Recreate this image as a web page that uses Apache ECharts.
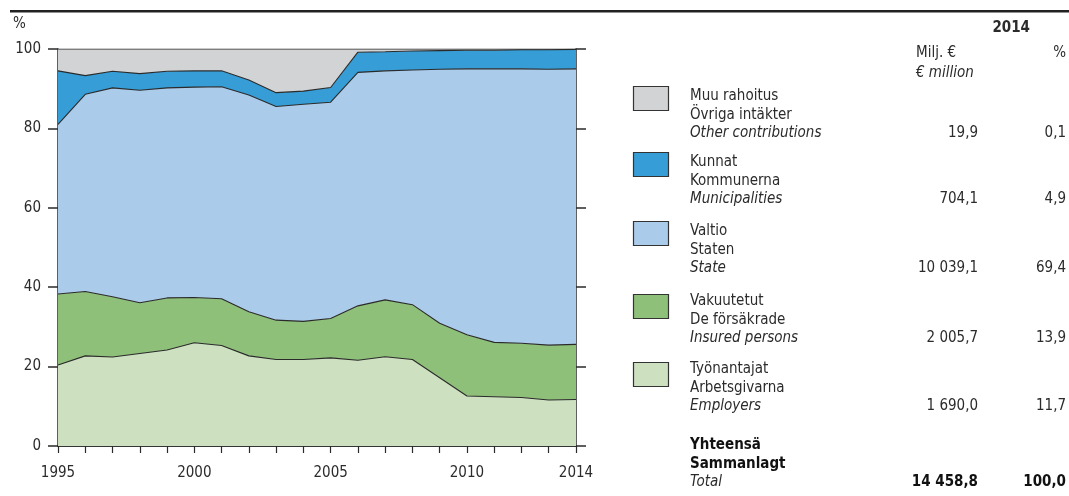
<!DOCTYPE html>
<html>
<head>
<meta charset="utf-8">
<script src="https://cdn.jsdelivr.net/npm/echarts@6/dist/echarts.min.js"></script>
<style>
  html, body { margin: 0; padding: 0; background: #fff; }
  #main { width: 1069px; height: 496px; }
</style>
</head>
<body>
<div id="main"></div>
<script>
// vuodet ja osuudet (%)
var years = ['1995','1996','1997','1998','1999','2000','2001','2002','2003','2004',
             '2005','2006','2007','2008','2009','2010','2011','2012','2013','2014'];
var employers = [20.4, 22.7, 22.4, 23.3, 24.2, 26.0, 25.3, 22.7, 21.8, 21.8, 22.2, 21.6, 22.5, 21.8, 17.2, 12.6, 12.4, 12.2, 11.6, 11.7];
var insured   = [17.9, 16.2, 15.2, 12.8, 13.1, 11.4, 11.8, 11.1, 9.9, 9.6, 9.9, 13.7, 14.3, 13.8, 13.7, 15.4, 13.7, 13.7, 13.8, 13.9];
var state     = [42.7, 49.7, 52.6, 53.5, 52.9, 53.0, 53.4, 54.6, 53.8, 54.7, 54.5, 58.8, 57.7, 59.1, 64.0, 67.0, 68.9, 69.1, 69.5, 69.4];
var munis     = [13.5, 4.7, 4.2, 4.2, 4.2, 4.1, 4.0, 3.8, 3.5, 3.3, 3.7, 5.1, 4.8, 4.8, 4.7, 4.7, 4.7, 4.8, 4.9, 4.9];
var other     = [5.5, 6.7, 5.6, 6.2, 5.6, 5.5, 5.5, 7.8, 11.0, 10.6, 9.7, 0.8, 0.7, 0.5, 0.4, 0.3, 0.3, 0.2, 0.2, 0.1];

// taulukko oikealla (ylhäältä alas)
var namesFi = ['Muu rahoitus', 'Kunnat', 'Valtio', 'Vakuutetut', 'Työnantajat'];
var namesSv = ['Övriga intäkter', 'Kommunerna', 'Staten', 'De försäkrade', 'Arbetsgivarna'];
var namesEn = ['Other contributions', 'Municipalities', 'State', 'Insured persons', 'Employers'];
var millions = ['19,9', '704,1', '10 039,1', '2 005,7', '1 690,0'];
var shares = ['0,1', '4,9', '69,4', '13,9', '11,7'];
var total = ['14 458,8', '100,0'];

var colors = ['#d2d3d5', '#369dd6', '#abcbea', '#8fc07a', '#cde0c0'];
var font = "'Liberation Sans Narrow', 'DejaVu Sans Condensed', sans-serif";
var txt = '#2b2b2b';
var fs = '15px ';

var myChart = echarts.init(document.getElementById('main'));

function area(name, data, color) {
    return {
        name: name,
        type: 'line',
        stack: 'all',
        data: data,
        symbol: 'none',
        lineStyle: { color: '#2a2a2a', width: 1.1 },
        areaStyle: { color: color, opacity: 1 },
        itemStyle: { color: color },
        z: 2
    };
}

// taulukon tekstit
var graphic = [
    { type: 'rect', shape: { x: 10, y: 10, width: 1059, height: 2.5 }, style: { fill: '#222' } },
    { type: 'text', x: 13, y: 17, style: { text: '%', font: fs + font, fill: txt } },
    { type: 'text', x: 1030, y: 21, style: { text: '2014', font: 'bold ' + fs + font, fill: txt, align: 'right' } },
    { type: 'text', x: 916, y: 46, style: { text: 'Milj. €', font: fs + font, fill: txt } },
    { type: 'text', x: 916, y: 66, style: { text: '€ million', font: 'italic ' + fs + font, fill: txt } },
    { type: 'text', x: 1066, y: 46, style: { text: '%', font: fs + font, fill: txt, align: 'right' } }
];
var rowTop = [89, 155, 224, 294, 362];
var boxTop = [87, 153, 222, 295, 363];
for (var i = 0; i < namesFi.length; i++) {
    var y0 = rowTop[i];
    graphic.push({ type: 'rect', shape: { x: 633.5, y: boxTop[i] - 0.5, width: 35, height: 24 },
        style: { fill: colors[i], stroke: '#333', lineWidth: 1.2 } });
    graphic.push({ type: 'text', x: 690, y: y0, style: { text: namesFi[i], font: fs + font, fill: txt } });
    graphic.push({ type: 'text', x: 690, y: y0 + 18.5, style: { text: namesSv[i], font: fs + font, fill: txt } });
    graphic.push({ type: 'text', x: 690, y: y0 + 37, style: { text: namesEn[i], font: 'italic ' + fs + font, fill: txt } });
    graphic.push({ type: 'text', x: 978, y: y0 + 37, style: { text: millions[i], font: fs + font, fill: txt, align: 'right' } });
    graphic.push({ type: 'text', x: 1066, y: y0 + 37, style: { text: shares[i], font: fs + font, fill: txt, align: 'right' } });
}
graphic.push({ type: 'text', x: 690, y: 438, style: { text: 'Yhteensä', font: 'bold ' + fs + font, fill: '#111' } });
graphic.push({ type: 'text', x: 690, y: 456.5, style: { text: 'Sammanlagt', font: 'bold ' + fs + font, fill: '#111' } });
graphic.push({ type: 'text', x: 690, y: 475, style: { text: 'Total', font: 'italic ' + fs + font, fill: txt } });
graphic.push({ type: 'text', x: 978, y: 475, style: { text: total[0], font: 'bold ' + fs + font, fill: '#111', align: 'right' } });
graphic.push({ type: 'text', x: 1066, y: 475, style: { text: total[1], font: 'bold ' + fs + font, fill: '#111', align: 'right' } });

var yCommon = {
    type: 'value', min: 0, max: 100, interval: 20,
    splitLine: { show: false },
    axisLine: { show: true, lineStyle: { color: '#2a2a2a', width: 1.5 } },
    axisTick: { show: true, length: 10, lineStyle: { color: '#2a2a2a', width: 1.5 } }
};

var option = {
    animation: false,
    textStyle: { fontFamily: font },
    grid: { left: 58, right: 493, top: 49, bottom: 50, containLabel: false },
    xAxis: [{
        type: 'category',
        data: years,
        boundaryGap: false,
        axisLine: { lineStyle: { color: '#2a2a2a', width: 1.5 } },
        axisTick: { interval: 0, length: 7, lineStyle: { color: '#2a2a2a', width: 1.2 } },
        axisLabel: {
            interval: 0, margin: 20, fontSize: 15, color: txt, fontFamily: font,
            formatter: function (v) { return (+v % 5 === 0 || v === '2014') ? v : ''; }
        }
    }, {
        type: 'category', data: years, boundaryGap: false, position: 'top',
        axisLine: { lineStyle: { color: '#2a2a2a', width: 1.5 } },
        axisTick: { show: false }, axisLabel: { show: false }
    }],
    yAxis: [
        Object.assign({}, yCommon, {
            position: 'left',
            axisLabel: { margin: 17, fontSize: 15, color: txt, fontFamily: font }
        }),
        Object.assign({}, yCommon, { position: 'right', axisLabel: { show: false } })
    ],
    series: [
        area('Työnantajat', employers, colors[4]),
        area('Vakuutetut', insured, colors[3]),
        area('Valtio', state, colors[2]),
        area('Kunnat', munis, colors[1]),
        area('Muu rahoitus', other, colors[0])
    ],
    graphic: graphic
};

myChart.setOption(option);
</script>
</body>
</html>
